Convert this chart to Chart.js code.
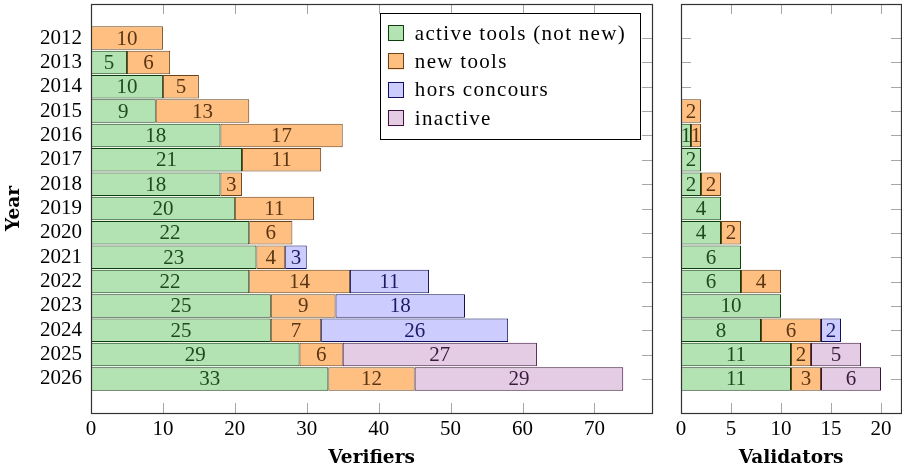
<!DOCTYPE html>
<html>
<head>
<meta charset="utf-8">
<script src="https://cdn.jsdelivr.net/npm/chart.js@4.4.1/dist/chart.umd.min.js"></script>
<style>
  body { margin: 0; background: #fff; width: 902px; height: 472px; overflow: hidden; position: relative; }
  canvas { position: absolute; top: 0; }
  #verifiersChart { left: 0; }
  #validatorsChart { left: 661px; }
</style>
</head>
<body>
<canvas id="verifiersChart" width="662" height="472"></canvas>
<canvas id="validatorsChart" width="241" height="472"></canvas>
<script>
// years on the vertical axis
const years = [2012, 2013, 2014, 2015, 2016, 2017, 2018, 2019, 2020, 2021, 2022, 2023, 2024, 2025, 2026];
const seriesNames = ['active tools (not new)', 'new tools', 'hors concours', 'inactive'];

// Verifiers
const verActive   = [0, 5, 10, 9, 18, 21, 18, 20, 22, 23, 22, 25, 25, 29, 33];
const verNew      = [10, 6, 5, 13, 17, 11, 3, 11, 6, 4, 14, 9, 7, 6, 12];
const verHors     = [0, 0, 0, 0, 0, 0, 0, 0, 0, 3, 11, 18, 26, 0, 0];
const verInactive = [0, 0, 0, 0, 0, 0, 0, 0, 0, 0, 0, 0, 0, 27, 29];

// Validators
const valActive   = [0, 0, 0, 0, 1, 2, 2, 4, 4, 6, 6, 10, 8, 11, 11];
const valNew      = [0, 0, 0, 2, 1, 0, 2, 0, 2, 0, 4, 0, 6, 2, 3];
const valHors     = [0, 0, 0, 0, 0, 0, 0, 0, 0, 0, 0, 0, 2, 0, 0];
const valInactive = [0, 0, 0, 0, 0, 0, 0, 0, 0, 0, 0, 0, 0, 5, 6];

const verifierTicks = [0, 10, 20, 30, 40, 50, 60, 70];
const validatorTicks = [0, 5, 10, 15, 20];

// colores (relleno, borde, texto)
const fills   = ['#b3e2b3', '#ffbf80', '#ccccff', '#e5cce5'];
const borders = ['#0d3f0d', '#6b4218', '#10105e', '#3a133a'];
const textCol = ['#1f4a1f', '#5a3514', '#1a1a66', '#3a1a3a'];

const serifFont = "'Liberation Serif', 'Times New Roman', serif";
const titleFont = "'DejaVu Serif', serif";

Chart.defaults.font.family = serifFont;
Chart.defaults.font.size = 21;
Chart.defaults.color = '#000';

function buildDatasets(series) {
    return series.map((arr, s) => ({
        label: seriesNames[s],
        data: years.map((y, i) => ({ x: arr[i] ? arr[i] : null, y: y })),
        backgroundColor: fills[s],
        borderColor: borders[s],
        borderWidth: 1,
        borderSkipped: false,
        barPercentage: 1,
        categoryPercentage: 0.965
    }));
}

// marco y marcas de graduación hacia dentro (estilo pgfplots)
const frameTicks = {
    id: 'frameTicks',
    beforeDatasetsDraw(chart) {
        const { ctx, chartArea: a, scales } = chart;
        const tickLen = 10;
        ctx.save();
        ctx.strokeStyle = '#a6a6a6';
        ctx.lineWidth = 1;
        ctx.beginPath();
        chart.options.xTickValues.forEach(v => {
            const px = Math.round(scales.x.getPixelForValue(v)) + 0.5;
            ctx.moveTo(px, a.top); ctx.lineTo(px, a.top + tickLen);
            ctx.moveTo(px, a.bottom); ctx.lineTo(px, a.bottom - tickLen);
        });
        years.forEach(v => {
            const py = Math.round(scales.y.getPixelForValue(v)) + 0.5;
            ctx.moveTo(a.left, py); ctx.lineTo(a.left + tickLen, py);
            ctx.moveTo(a.right, py); ctx.lineTo(a.right - tickLen, py);
        });
        ctx.stroke();
        ctx.restore();
    },
    afterDatasetsDraw(chart) {
        const { ctx, chartArea: a } = chart;
        ctx.save();
        ctx.strokeStyle = '#333';
        ctx.lineWidth = 1.2;
        ctx.strokeRect(Math.round(a.left) + 0.5, Math.round(a.top) + 0.5,
            Math.round(a.right - a.left), Math.round(a.bottom - a.top));
        ctx.restore();
    }
};

// números dentro de cada segmento
const barLabels = {
    id: 'barLabels',
    afterDatasetsDraw(chart) {
        const ctx = chart.ctx;
        ctx.save();
        ctx.font = '21px ' + serifFont;
        ctx.textAlign = 'center';
        ctx.textBaseline = 'middle';
        chart.data.datasets.forEach((ds, s) => {
            const meta = chart.getDatasetMeta(s);
            meta.data.forEach((el, i) => {
                const v = ds.data[i].x;
                if (!v) return;
                ctx.fillStyle = textCol[s];
                ctx.fillText(String(v), (el.x + el.base) / 2, el.y + 1);
            });
        });
        ctx.restore();
    }
};

// leyenda dentro del área del gráfico
const boxLegend = {
    id: 'boxLegend',
    afterDraw(chart) {
        if (!chart.options.showBoxLegend) return;
        const { ctx, chartArea: a } = chart;
        ctx.save();
        ctx.font = '21px ' + serifFont;
        ctx.letterSpacing = '1.3px';
        const tw = Math.max(...seriesNames.map(n => ctx.measureText(n).width));
        const w = 8 + 16 + 11 + tw + 14;
        const h = 126;
        const right = a.right - 12;
        const left = right - w;
        const top = a.top + 9;
        ctx.fillStyle = '#fff';
        ctx.fillRect(left, top, w, h);
        ctx.strokeStyle = '#000';
        ctx.lineWidth = 1;
        ctx.strokeRect(Math.round(left) + 0.5, Math.round(top) + 0.5, Math.round(w), h);
        ctx.textBaseline = 'middle';
        ctx.textAlign = 'left';
        seriesNames.forEach((n, s) => {
            const cy = top + 20 + s * 28.4;
            ctx.fillStyle = fills[s];
            ctx.fillRect(left + 8, cy - 8, 16, 16);
            ctx.strokeStyle = borders[s];
            ctx.strokeRect(Math.round(left + 8) + 0.5, Math.round(cy - 8) + 0.5, 15, 15);
            ctx.fillStyle = '#000';
            ctx.fillText(n, left + 8 + 16 + 11, cy + 1);
        });
        ctx.restore();
    }
};

function xScale(max, tickValues, title) {
    return {
        type: 'linear', min: 0, max: max, stacked: true, offset: false,
        afterBuildTicks: s => { s.ticks = tickValues.map(v => ({ value: v })); },
        afterFit: s => { s.height = 59; s.paddingLeft = 0; s.paddingRight = 0; },
        grid: { display: false, drawTicks: false },
        border: { display: false },
        ticks: { padding: 4, maxRotation: 0, autoSkip: false, color: '#000' },
        title: { display: true, text: title, color: '#000', font: { family: titleFont, size: 18.5, weight: 'bold' }, padding: { top: 0, bottom: 3 } }
    };
}

function yScale(withLabels) {
    return {
        type: 'linear', reverse: true, min: 2010.6, max: 2027.4, stacked: true, offset: false,
        display: withLabels,
        afterBuildTicks: s => { s.ticks = years.map(v => ({ value: v })); },
        afterFit: s => { s.width = withLabels ? 91 : 0; s.paddingTop = 0; s.paddingBottom = 0; },
        grid: { display: false, drawTicks: false },
        border: { display: false },
        ticks: { padding: 9, color: '#000', autoSkip: false, callback: v => String(v) },
        title: { display: true, text: 'Year', color: '#000', font: { family: titleFont, size: 18.5, weight: 'bold' }, padding: { top: 3, bottom: 0 } }
    };
}

new Chart(document.getElementById('verifiersChart'), {
    type: 'bar',
    data: { datasets: buildDatasets([verActive, verNew, verHors, verInactive]) },
    options: {
        indexAxis: 'y', responsive: false, animation: false,
        layout: { padding: { top: 4, right: 10, left: 0, bottom: 0 } },
        xTickValues: verifierTicks,
        showBoxLegend: true,
        plugins: { legend: { display: false }, tooltip: { enabled: false } },
        scales: { x: xScale(78, verifierTicks, 'Verifiers'), y: yScale(true) }
    },
    plugins: [frameTicks, barLabels, boxLegend]
});

new Chart(document.getElementById('validatorsChart'), {
    type: 'bar',
    data: { datasets: buildDatasets([valActive, valNew, valHors, valInactive]) },
    options: {
        indexAxis: 'y', responsive: false, animation: false,
        layout: { padding: { top: 4, right: 1, left: 20, bottom: 0 } },
        xTickValues: validatorTicks,
        showBoxLegend: false,
        plugins: { legend: { display: false }, tooltip: { enabled: false } },
        scales: { x: xScale(22, validatorTicks, 'Validators'), y: yScale(false) }
    },
    plugins: [frameTicks, barLabels]
});
</script>
</body>
</html>
